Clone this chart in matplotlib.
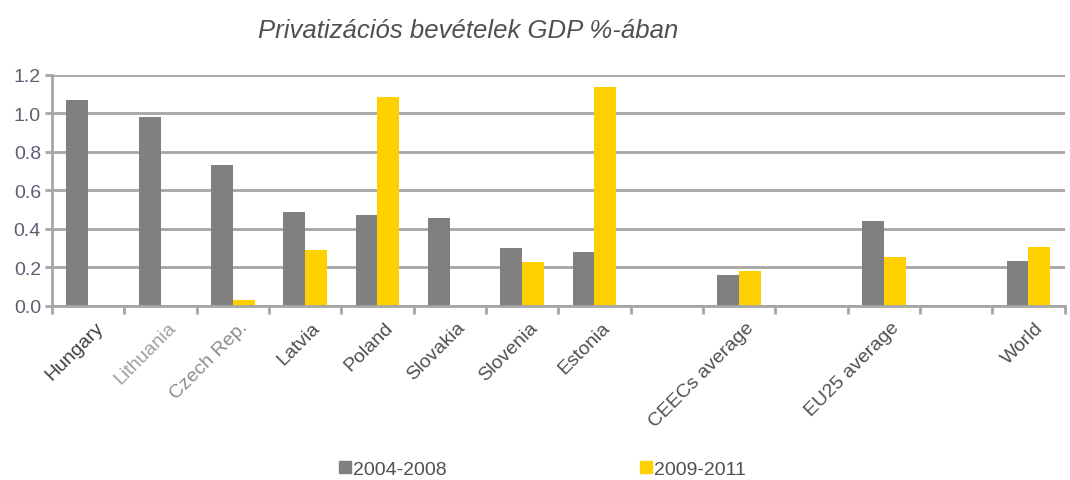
import matplotlib
matplotlib.use("Agg")
import matplotlib.pyplot as plt
import numpy as np
from matplotlib.patches import Patch

plt.rcParams['font.family'] = ['Liberation Sans', 'DejaVu Sans']

# 14 category slots, blank ones are gaps in the original chart
categories = ['Hungary', 'Lithuania', 'Czech Rep.', 'Latvia', 'Poland', 'Slovakia',
              'Slovenia', 'Estonia', '', 'CEECs average', '', 'EU25 average', '', 'World']
vals_2004_2008 = [1.07, 0.98, 0.73, 0.49, 0.47, 0.455, 0.30, 0.28, 0, 0.163, 0, 0.443, 0, 0.235]
vals_2009_2011 = [0, 0, 0.03, 0.29, 1.085, 0, 0.228, 1.14, 0, 0.18, 0, 0.253, 0, 0.307]
label_colors = ['#404040', '#a0a0a0', '#8c8c8c', '#505050', '#505050', '#505050',
                '#505050', '#505050', '#505050', '#505050', '#505050', '#505050', '#505050', '#505050']

GRAY = '#808080'
YELLOW = '#FFD000'
AXIS = '#a6a6a6'

fig = plt.figure(figsize=(10.7, 4.81), dpi=100)
ax = fig.add_axes([0.0486, 0.362, 0.9464, 0.48])

x = np.arange(len(categories))
w = 0.30
ax.bar(x - w / 2, vals_2004_2008, width=w, color=GRAY, zorder=3, label='2004-2008')
ax.bar(x + w / 2, vals_2009_2011, width=w, color=YELLOW, zorder=3, label='2009-2011')

ax.set_xlim(-0.5, len(categories) - 0.5)
ax.set_ylim(0, 1.2)
ax.set_yticks(np.arange(0, 1.21, 0.2))
ax.set_yticklabels([f'{v:.1f}' for v in np.arange(0, 1.21, 0.2)])
ax.yaxis.grid(True, color=AXIS, linewidth=2, zorder=0)

for s in ['top', 'right']:
    ax.spines[s].set_visible(False)
for s in ['left', 'bottom']:
    ax.spines[s].set_color(AXIS)
    ax.spines[s].set_linewidth(2)
    ax.spines[s].set_zorder(4)

# tick marks at slot boundaries, labels at slot centres
ax.set_xticks(np.arange(-0.5, len(categories) - 0.4, 1.0))
ax.set_xticklabels([])
ax.tick_params(axis='x', length=6, width=2, color=AXIS)
ax.tick_params(axis='y', length=5, width=2, color=AXIS, labelsize=14,
               labelcolor='#5a6070', pad=3)

for xi, lab, c in zip(x, categories, label_colors):
    if lab:
        ax.text(xi + 0.09, -0.065, lab, rotation=45, ha='right', va='top',
                rotation_mode='anchor', fontsize=14, color=c,
                transform=ax.transData)

fig.text(0.438, 0.935, 'Privatizációs bevételek GDP %-ában', ha='center', va='center',
         fontsize=18.5, style='italic', color='#505050')

handles = [Patch(color=GRAY), Patch(color=YELLOW)]
fig.legend(handles, ['2004-2008', '2009-2011'], loc='center', bbox_to_anchor=(0.507, 0.022),
           ncol=2, frameon=False, fontsize=14, handlelength=0.6, handleheight=0.6,
           handletextpad=0.1, columnspacing=9.95, labelcolor='#505050')

fig.savefig('out.png', dpi=100, facecolor='white')
